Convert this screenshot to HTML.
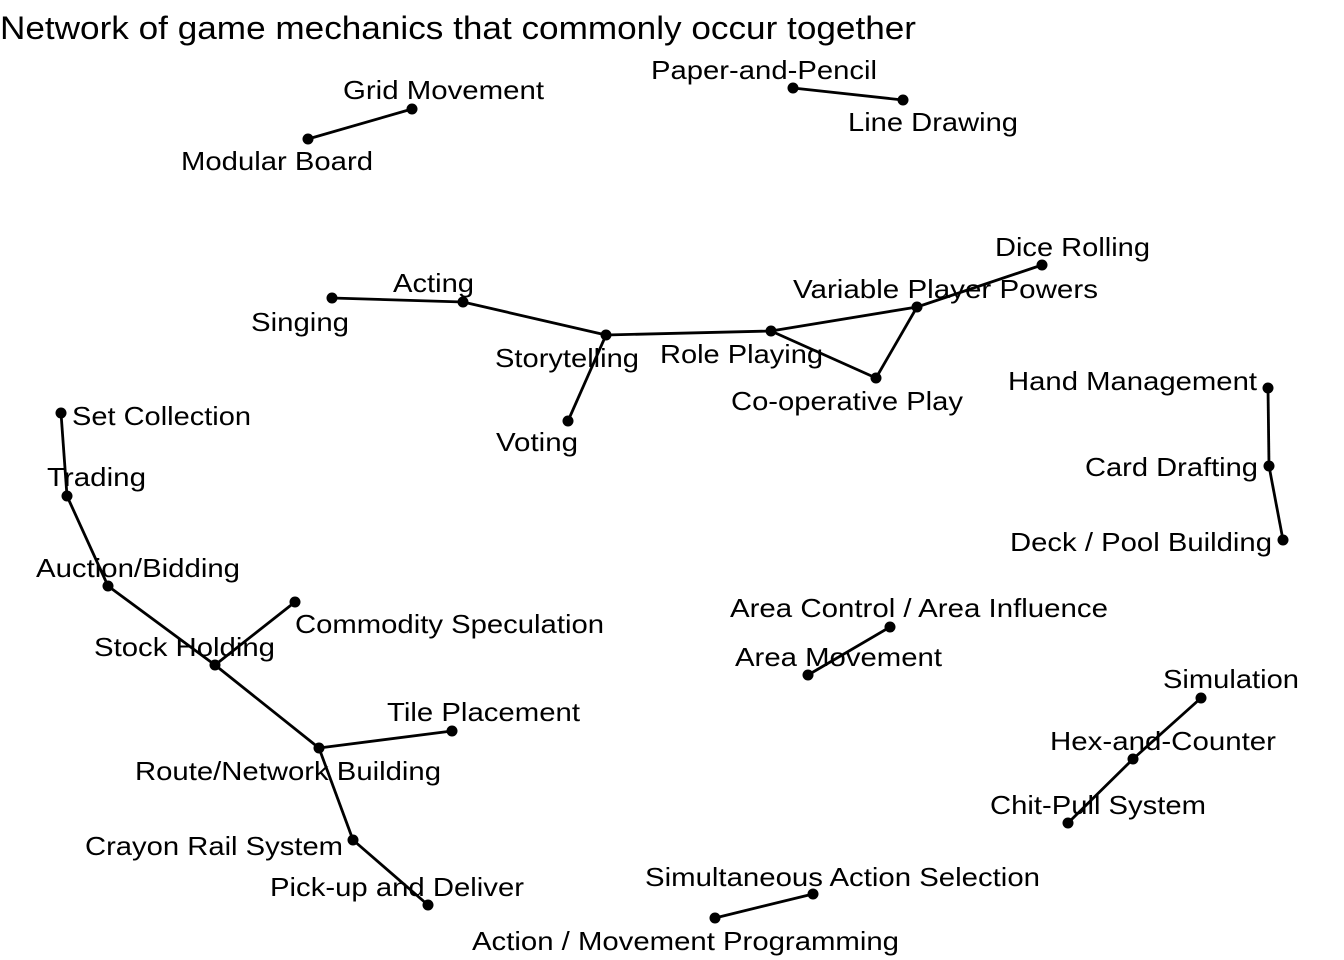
<!DOCTYPE html>
<html><head><meta charset="utf-8"><style>
html,body{margin:0;padding:0;background:#fff}
svg{display:block}
text{font-family:"Liberation Sans",Arial,sans-serif;fill:#000}
</style></head><body>
<svg width="1344" height="960" viewBox="0 0 1344 960" xmlns="http://www.w3.org/2000/svg">
<rect width="1344" height="960" fill="#fff"/>
<text x="0" y="39" font-size="32" textLength="916" lengthAdjust="spacingAndGlyphs">Network of game mechanics that commonly occur together</text>
<g stroke="#000" stroke-width="2.8" fill="none">
<line x1="412" y1="109" x2="308" y2="139"/>
<line x1="793" y1="88" x2="903" y2="100"/>
<line x1="332" y1="298" x2="463" y2="302"/>
<line x1="463" y1="302" x2="606" y2="335"/>
<line x1="606" y1="335" x2="568" y2="421"/>
<line x1="606" y1="335" x2="771" y2="331"/>
<line x1="771" y1="331" x2="917" y2="307"/>
<line x1="771" y1="331" x2="876" y2="378"/>
<line x1="876" y1="378" x2="917" y2="307"/>
<line x1="917" y1="307" x2="1042" y2="265"/>
<line x1="1268" y1="388" x2="1269" y2="466"/>
<line x1="1269" y1="466" x2="1283" y2="540"/>
<line x1="61" y1="413" x2="67" y2="496"/>
<line x1="67" y1="496" x2="108" y2="586"/>
<line x1="108" y1="586" x2="215" y2="665"/>
<line x1="215" y1="665" x2="295" y2="602"/>
<line x1="215" y1="665" x2="319" y2="748"/>
<line x1="319" y1="748" x2="452" y2="731"/>
<line x1="319" y1="748" x2="353" y2="840"/>
<line x1="353" y1="840" x2="428" y2="905"/>
<line x1="890" y1="627" x2="808" y2="675"/>
<line x1="1201" y1="698" x2="1133" y2="759"/>
<line x1="1133" y1="759" x2="1068" y2="823"/>
<line x1="813" y1="894" x2="715" y2="918"/>
</g>
<g fill="#000">
<circle cx="412" cy="109" r="5.5"/><circle cx="308" cy="139" r="5.5"/>
<circle cx="793" cy="88" r="5.5"/><circle cx="903" cy="100" r="5.5"/>
<circle cx="1042" cy="265" r="5.5"/><circle cx="917" cy="307" r="5.5"/>
<circle cx="463" cy="302" r="5.5"/><circle cx="332" cy="298" r="5.5"/>
<circle cx="606" cy="335" r="5.5"/><circle cx="771" cy="331" r="5.5"/>
<circle cx="876" cy="378" r="5.5"/><circle cx="568" cy="421" r="5.5"/>
<circle cx="1268" cy="388" r="5.5"/><circle cx="1269" cy="466" r="5.5"/>
<circle cx="1283" cy="540" r="5.5"/><circle cx="61" cy="413" r="5.5"/>
<circle cx="67" cy="496" r="5.5"/><circle cx="108" cy="586" r="5.5"/>
<circle cx="215" cy="665" r="5.5"/><circle cx="295" cy="602" r="5.5"/>
<circle cx="319" cy="748" r="5.5"/><circle cx="452" cy="731" r="5.5"/>
<circle cx="353" cy="840" r="5.5"/><circle cx="428" cy="905" r="5.5"/>
<circle cx="890" cy="627" r="5.5"/><circle cx="808" cy="675" r="5.5"/>
<circle cx="1201" cy="698" r="5.5"/><circle cx="1133" cy="759" r="5.5"/>
<circle cx="1068" cy="823" r="5.5"/><circle cx="813" cy="894" r="5.5"/>
<circle cx="715" cy="918" r="5.5"/>
</g>
<g font-size="26">
<text lengthAdjust="spacingAndGlyphs" x="343" y="99" textLength="201">Grid Movement</text>
<text lengthAdjust="spacingAndGlyphs" x="651" y="79" textLength="226">Paper-and-Pencil</text>
<text lengthAdjust="spacingAndGlyphs" x="848" y="131" textLength="170">Line Drawing</text>
<text lengthAdjust="spacingAndGlyphs" x="181" y="170" textLength="192">Modular Board</text>
<text lengthAdjust="spacingAndGlyphs" x="995" y="256" textLength="155">Dice Rolling</text>
<text lengthAdjust="spacingAndGlyphs" x="793" y="298" textLength="305">Variable Player Powers</text>
<text lengthAdjust="spacingAndGlyphs" x="393" y="292" textLength="81">Acting</text>
<text lengthAdjust="spacingAndGlyphs" x="251" y="331" textLength="98">Singing</text>
<text lengthAdjust="spacingAndGlyphs" x="495" y="367" textLength="144">Storytelling</text>
<text lengthAdjust="spacingAndGlyphs" x="660" y="363" textLength="163">Role Playing</text>
<text lengthAdjust="spacingAndGlyphs" x="731" y="410" textLength="232">Co-operative Play</text>
<text lengthAdjust="spacingAndGlyphs" x="496" y="451" textLength="82">Voting</text>
<text lengthAdjust="spacingAndGlyphs" x="1008" y="390" textLength="249">Hand Management</text>
<text lengthAdjust="spacingAndGlyphs" x="72" y="425" textLength="179">Set Collection</text>
<text lengthAdjust="spacingAndGlyphs" x="1085" y="476" textLength="173">Card Drafting</text>
<text lengthAdjust="spacingAndGlyphs" x="47" y="486" textLength="99">Trading</text>
<text lengthAdjust="spacingAndGlyphs" x="1010" y="551" textLength="262">Deck / Pool Building</text>
<text lengthAdjust="spacingAndGlyphs" x="36" y="577" textLength="204">Auction/Bidding</text>
<text lengthAdjust="spacingAndGlyphs" x="730" y="617" textLength="378">Area Control / Area Influence</text>
<text lengthAdjust="spacingAndGlyphs" x="295" y="633" textLength="309">Commodity Speculation</text>
<text lengthAdjust="spacingAndGlyphs" x="94" y="656" textLength="181">Stock Holding</text>
<text lengthAdjust="spacingAndGlyphs" x="735" y="666" textLength="207">Area Movement</text>
<text lengthAdjust="spacingAndGlyphs" x="1163" y="688" textLength="136">Simulation</text>
<text lengthAdjust="spacingAndGlyphs" x="387" y="721" textLength="193">Tile Placement</text>
<text lengthAdjust="spacingAndGlyphs" x="1050" y="750" textLength="226">Hex-and-Counter</text>
<text lengthAdjust="spacingAndGlyphs" x="135" y="780" textLength="306">Route/Network Building</text>
<text lengthAdjust="spacingAndGlyphs" x="990" y="814" textLength="216">Chit-Pull System</text>
<text lengthAdjust="spacingAndGlyphs" x="85" y="855" textLength="258">Crayon Rail System</text>
<text lengthAdjust="spacingAndGlyphs" x="270" y="896" textLength="254">Pick-up and Deliver</text>
<text lengthAdjust="spacingAndGlyphs" x="645" y="886" textLength="395">Simultaneous Action Selection</text>
<text lengthAdjust="spacingAndGlyphs" x="472" y="950" textLength="427">Action / Movement Programming</text>
</g>
</svg>
</body></html>
